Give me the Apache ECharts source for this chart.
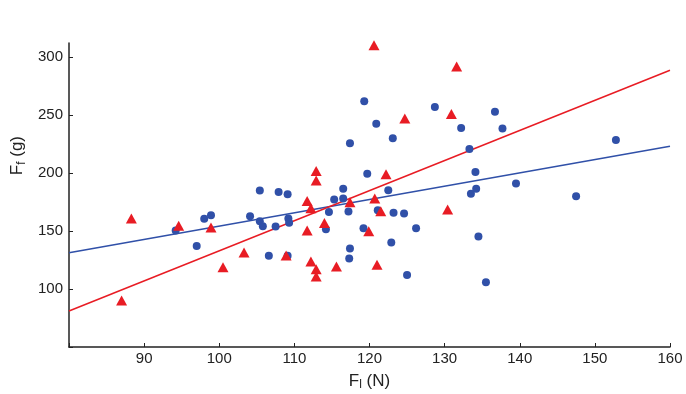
<!DOCTYPE html>
<html>
<head>
<meta charset="utf-8">
<script src="https://cdn.jsdelivr.net/npm/echarts@6/dist/echarts.min.js"></script>
<style>
  html, body { margin: 0; padding: 0; background: #fff; }
  #chart { width: 686px; height: 394px; }
</style>
</head>
<body>
<div id="chart"></div>
<script>
// blue circles: [F_l (N), F_f (g)]
const bluePoints = [
  [94.2, 150.3], [98.0, 160.5], [98.9, 163.5], [97.0, 137.0],
  [105.4, 184.8], [107.9, 183.5], [109.1, 181.7], [104.1, 162.7],
  [105.4, 158.3], [105.8, 154.0], [107.5, 153.8], [109.2, 160.7],
  [109.3, 157.0], [106.6, 128.6], [109.1, 128.6], [114.6, 166.3],
  [115.3, 177.1], [114.2, 151.4], [116.5, 186.4], [116.5, 177.9],
  [117.2, 166.8], [119.7, 199.4], [122.5, 185.2], [121.1, 167.9],
  [123.2, 165.6], [124.6, 165.0], [119.2, 152.4], [126.2, 152.3],
  [122.9, 140.1], [117.4, 134.9], [117.3, 126.3], [125.0, 112.1],
  [117.4, 225.7], [119.3, 261.8], [120.9, 242.4], [123.1, 230.0],
  [128.7, 256.8], [132.2, 238.7], [133.3, 220.7], [136.7, 252.8],
  [137.7, 238.4], [152.8, 228.3], [134.1, 200.8], [139.5, 191.0],
  [133.5, 182.1], [134.2, 186.4], [147.5, 180.0], [134.5, 145.3],
  [135.5, 105.8]
]

// red triangles
const redPoints = [
  [87.0, 90.0], [88.3, 160.7], [94.6, 154.6], [98.9, 153.0],
  [100.5, 118.8], [103.3, 131.5], [108.9, 128.9], [112.9, 201.6],
  [112.9, 193.4], [111.7, 175.8], [112.2, 169.5], [111.7, 150.3],
  [114.0, 156.9], [112.2, 123.7], [112.9, 117.0], [112.9, 110.7],
  [115.6, 119.3], [122.2, 198.8], [117.4, 174.8], [120.7, 178.0],
  [121.5, 167.0], [119.9, 149.7], [121.0, 120.8], [120.6, 310.0],
  [131.6, 291.8], [124.7, 247.0], [130.9, 250.8], [130.4, 168.5]
]

// fitted lines, endpoints at the axis limits
const blueFit = [[80, 131.3], [160, 223.0]]
const redFit = [[80, 81.0], [160, 288.5]]

const X_MIN = 80, X_MAX = 160, X_STEP = 10
const Y_MIN = 50, Y_MAX = 312, Y_STEP = 50

const BLUE = '#3050a8'
const RED = '#e81c24'
const FONT = 'Liberation Sans'

const chart = echarts.init(document.getElementById('chart'))

chart.setOption({
  animation: false,
  grid: { left: 69, right: 16, top: 43, bottom: 47, outerBoundsMode: 'none' },
  xAxis: {
    type: 'value',
    min: X_MIN,
    max: X_MAX,
    interval: X_STEP,
    axisLine: { lineStyle: { color: '#222', width: 1.5 } },
    axisTick: { inside: true, length: 4, lineStyle: { color: '#222' } },
    splitLine: { show: false },
    axisLabel: {
      color: '#222',
      fontFamily: FONT,
      fontSize: 15,
      margin: 4,
      formatter: v => (v === X_MIN ? '' : v)
    },
    name: '{a|F}{s|l}{a| (N)}',
    nameLocation: 'middle',
    nameGap: 24,
    nameTextStyle: {
      rich: {
        a: { fontFamily: FONT, fontSize: 17, color: '#222' },
        s: { fontFamily: FONT, fontSize: 12, color: '#222', verticalAlign: 'bottom', padding: [8, 0, 0, 0] }
      }
    }
  },
  yAxis: {
    type: 'value',
    min: Y_MIN,
    max: Y_MAX,
    interval: Y_STEP,
    axisLine: { show: true, lineStyle: { color: '#222', width: 1.5 } },
    axisTick: { show: true, inside: true, length: 4, lineStyle: { color: '#222' } },
    splitLine: { show: false },
    axisLabel: {
      color: '#222',
      fontFamily: FONT,
      fontSize: 15,
      margin: 6,
      showMaxLabel: false,
      formatter: v => (v === Y_MIN ? '' : v)
    }
  },
  graphic: [{
    type: 'text',
    left: 9,
    top: 136,
    rotation: Math.PI / 2,
    style: {
      text: '{a|F}{s|f}{a| (g)}',
      rich: {
        a: { fontFamily: FONT, fontSize: 17, fill: '#222' },
        s: { fontFamily: FONT, fontSize: 12, fill: '#222', padding: [8, 0, 0, 0] }
      }
    }
  }],
  series: [
    {
      name: 'blue fit',
      type: 'line',
      data: blueFit,
      showSymbol: false,
      lineStyle: { color: BLUE, width: 1.5 },
      z: 1
    },
    {
      name: 'red fit',
      type: 'line',
      data: redFit,
      showSymbol: false,
      lineStyle: { color: RED, width: 1.5 },
      z: 1
    },
    {
      name: 'circles',
      type: 'scatter',
      data: bluePoints,
      symbol: 'circle',
      symbolSize: 8,
      itemStyle: { color: BLUE, opacity: 1 },
      z: 2
    },
    {
      name: 'triangles',
      type: 'scatter',
      data: redPoints,
      symbol: 'triangle',
      symbolSize: [11, 10],
      itemStyle: { color: RED, opacity: 1 },
      z: 3
    }
  ]
})
</script>
</body>
</html>
